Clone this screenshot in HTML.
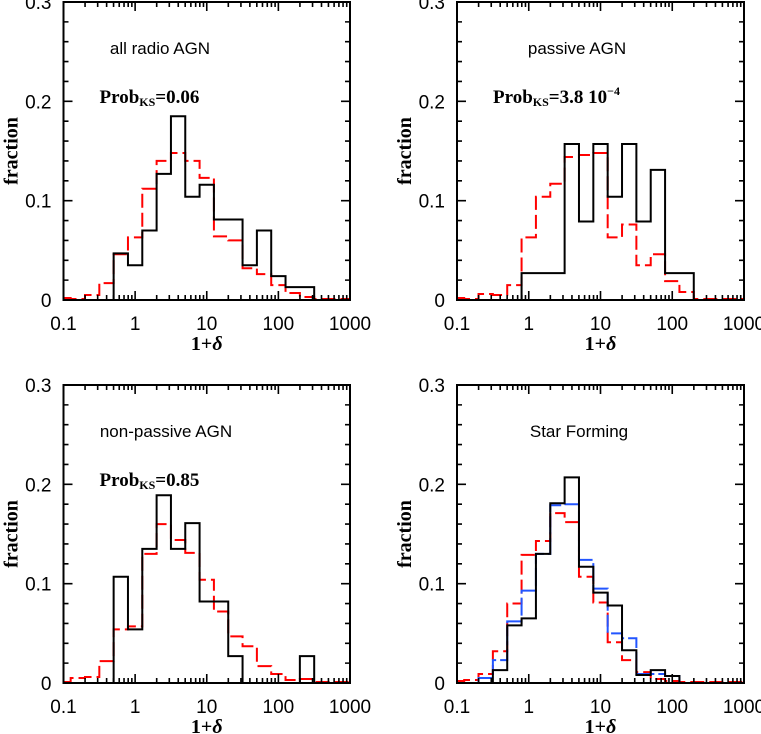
<!DOCTYPE html>
<html><head><meta charset="utf-8"><style>
body{margin:0;background:#fff;}
svg{display:block;}
.tl{font-family:"Liberation Sans",sans-serif;font-size:19px;fill:#000;}
.tt{font-family:"Liberation Sans",sans-serif;font-size:17px;fill:#000;}
.lab{font-family:"Liberation Serif",serif;font-weight:bold;font-size:20px;fill:#000;}
.ks{font-family:"Liberation Serif",serif;font-weight:bold;font-size:19px;fill:#000;}
</style></head><body>
<svg id="fig" width="761" height="734" viewBox="0 0 761 734" xmlns="http://www.w3.org/2000/svg"></svg>
<script>
// bin centers in log10(1+delta), bins 0.2 dex wide
const binCenters=[-1.0,-0.8,-0.6,-0.4,-0.2,0.0,0.2,0.4,0.6,0.8,1.0,1.2,1.4,1.6,1.8,2.0,2.2,2.4,2.6,2.8,3.0];
const xTickLabels=["0.1","1","10","100","1000"];
const yTickLabels=["0","0.1","0.2","0.3"];
const allBlack=[0,0,0,0,0.047,0.035,0.07,0.127,0.185,0.104,0.116,0.081,0.081,0.035,0.07,0.024,0.013,0.013,0,0,0];
const allRed=[0.002,0.001,0.005,0.017,0.046,0.063,0.112,0.14,0.148,0.14,0.123,0.064,0.06,0.032,0.026,0.015,0.007,0.003,0.001,0.001,0.001];
const pasBlack=[0,0,0,0,0,0.027,0.027,0.027,0.157,0.079,0.157,0.104,0.157,0.079,0.131,0.027,0.027,0,0,0,0];
const pasRed=[0.002,0.001,0.006,0.005,0.015,0.063,0.104,0.117,0.144,0.146,0.148,0.063,0.076,0.035,0.046,0.019,0.008,0.001,0.001,0.001,0.001];
const npBlack=[0,0,0,0,0.107,0.054,0.135,0.189,0.135,0.161,0.082,0.082,0.027,0,0,0,0,0.027,0,0,0];
const npRed=[0.001,0.005,0.006,0.022,0.054,0.057,0.13,0.16,0.144,0.131,0.104,0.072,0.047,0.037,0.017,0.009,0.003,0.004,0.001,0.001,0.001];
const sfBlack=[0,0,0,0.013,0.058,0.065,0.13,0.181,0.207,0.117,0.091,0.078,0.033,0.008,0.013,0.007,0,0,0,0,0];
const sfRed=[0.002,0.003,0.009,0.032,0.08,0.129,0.143,0.171,0.162,0.107,0.081,0.041,0.023,0.011,0.004,0.002,0.001,0.001,0.001,0.001,0.001];
const sfBlue=[0,0,0.005,0.023,0.062,0.093,0.13,0.179,0.18,0.124,0.095,0.05,0.045,0.009,0.009,0.007,0,0,0,0,0];

const NS="http://www.w3.org/2000/svg";
const fig=document.getElementById('fig');
function el(tag,attrs,parent){const e=document.createElementNS(NS,tag);for(const k in attrs)e.setAttribute(k,attrs[k]);(parent||fig).appendChild(e);return e;}

function panel(name,x0,x1,y0,y1,title,titleX,ks,series){
  const g=el('g',{});
  
  
  const X=v=>x0+(v+1)/4*(x1-x0);
  const Y=v=>y0-v/0.3*(y0-y1);
  series.forEach(s=>{
    let d='';
    binCenters.forEach((c,i)=>{
      const a=X(Math.max(-1,c-0.1)),b=X(Math.min(3,c+0.1)),y=Y(s.vals[i]);
      d+=(i===0?'M':'L')+a+' '+y+' L'+b+' '+y+' ';
    });
    const p=el('path',{d:d,fill:'none',stroke:s.color,'stroke-width':2,'stroke-dasharray':s.dash||'none'},g);
    
    
  });
  const fr=el('rect',{x:x0,y:y1,width:x1-x0,height:y0-y1,fill:'none',stroke:'#000','stroke-width':2},g);
  
  
  let td='';
  for(let dec=-1;dec<3;dec++){
    for(let m=1;m<10;m++){
      const v=dec+Math.log10(m);const x=X(v);const L=(m===1)?9:5;
      td+=`M${x} ${y0}L${x} ${y0-L}M${x} ${y1}L${x} ${y1+L}`;
    }
  }
  for(let k=0;k<=15;k++){
    const y=Y(k*0.02);const L=(k%5===0)?9:5;
    td+=`M${x0} ${y}L${x0+L} ${y}M${x1} ${y}L${x1-L} ${y}`;
  }
  el('path',{d:td,stroke:'#000','stroke-width':1.6,fill:'none'},g);
  xTickLabels.forEach((t,i)=>{
    const tx=el('text',{x:X(i-1),y:y0+30,'text-anchor':'middle',class:'tl'},g);
    tx.textContent=t;
    
    
  });
  yTickLabels.forEach((t,i)=>{
    const tx=el('text',{x:x0-12,y:Y(i*0.1)+7,'text-anchor':'end',class:'tl'},g);
    tx.textContent=t;
    
    
  });
  const xl=el('text',{x:(x0+x1)/2,y:y0+50,'text-anchor':'middle',class:'lab'},g);
  xl.innerHTML='1+<tspan font-style="italic">δ</tspan>';
  
  
  const yl=el('text',{x:0,y:0,'text-anchor':'middle',class:'lab',transform:`translate(${x0-46},${(y0+y1)/2}) rotate(-90)`},g);
  yl.textContent='fraction';
  
  
  const tt=el('text',{x:titleX,y:y1+52,'text-anchor':'middle',class:'tt'},g);
  tt.textContent=title;
  
  
  if(ks){
    const kt=el('text',{x:x0+36,y:y1+101,class:'ks'},g);
    kt.innerHTML='Prob<tspan font-size="12" dy="3">KS</tspan><tspan dy="-3">='+ks+'</tspan>';
    
    
  }
}
const RD='14 5', BD='18 4';
panel('panel-all-radio-agn',63.5,350,300,2,'all radio  AGN',160,'0.06',
  [{name:'series-all-red',vals:allRed,color:'#f00',dash:RD},{name:'series-all-black',vals:allBlack,color:'#000'}]);
panel('panel-passive-agn',457,744,300,2,'passive AGN',577,'3.8  10<tspan font-size="12" dy="-8">−4</tspan><tspan dy="8"></tspan>',
  [{name:'series-passive-red',vals:pasRed,color:'#f00',dash:RD},{name:'series-passive-black',vals:pasBlack,color:'#000'}]);
panel('panel-non-passive-agn',63.5,350,683,385,'non-passive AGN',166,'0.85',
  [{name:'series-nonpassive-red',vals:npRed,color:'#f00',dash:RD},{name:'series-nonpassive-black',vals:npBlack,color:'#000'}]);
panel('panel-star-forming',457,744,683,385,'Star Forming',579,null,
  [{name:'series-sf-red',vals:sfRed,color:'#f00',dash:RD},{name:'series-sf-blue',vals:sfBlue,color:'#2255ff',dash:BD},{name:'series-sf-black',vals:sfBlack,color:'#000'}]);
</script>
</body></html>
